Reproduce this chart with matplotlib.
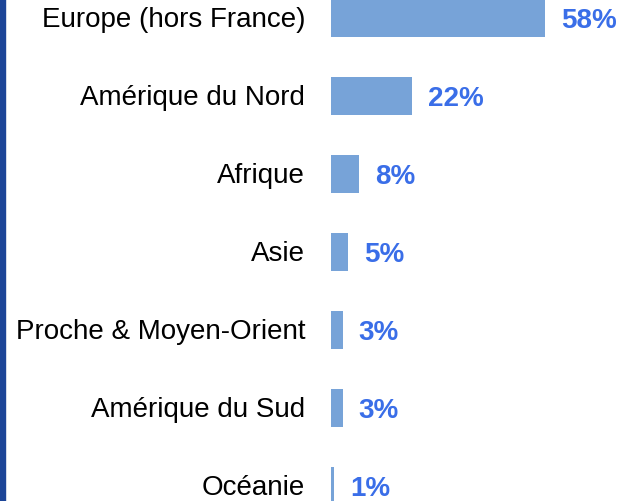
import matplotlib
matplotlib.use("Agg")
import matplotlib.pyplot as plt
from matplotlib.patches import Rectangle

categories = ["Europe (hors France)", "Amérique du Nord", "Afrique", "Asie",
              "Proche & Moyen-Orient", "Amérique du Sud", "Océanie"]
values = [58, 22, 7.6, 4.6, 3.2, 3.2, 0.9]
labels = ["58%", "22%", "8%", "5%", "3%", "3%", "1%"]

W, H = 619, 502
fig = plt.figure(figsize=(W / 100, H / 100), dpi=100)
plt.rcParams['font.family'] = ['Liberation Sans', 'DejaVu Sans']

x0 = 331
ax = fig.add_axes([x0 / W, 0, (W - x0) / W, 1])
px_per = 3.69
ax.set_xlim(0, (W - x0) / px_per)
step = 78.0
top_center = 19.0
ax.set_ylim((H - top_center) / step, -top_center / step)

ypos = list(range(len(categories)))
ax.barh(ypos, values, height=38 / step, color="#77a3d8", left=0)
for y, v, lab in zip(ypos, values, labels):
    ax.annotate(lab, (v, y), xytext=(11.5, -1.5), textcoords="offset points",
                ha="left", va="center", fontsize=20, fontweight="bold",
                color="#3a6ee8")
    ax.annotate(categories[y], (0, y), xytext=(-18.5, -1), textcoords="offset points",
                ha="right", va="center", fontsize=20, color="black",
                annotation_clip=False)
ax.axis("off")

fig.patches.append(Rectangle((0, 0), 5 / W, 1, transform=fig.transFigure,
                             color="#1c4598", zorder=5))
fig.savefig("out.png", dpi=100)
